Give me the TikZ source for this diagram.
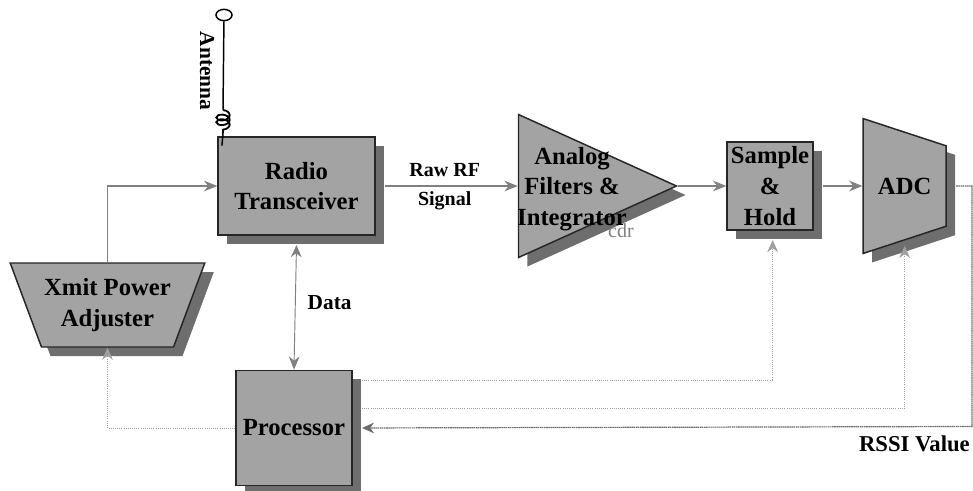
\documentclass[tikz,border=0pt]{standalone}
\usepackage{fontspec}
\setmainfont{Liberation Serif}
\usetikzlibrary{arrows.meta,positioning,shapes,shapes.geometric,shadows,decorations.pathmorphing}
\definecolor{blockgray}{HTML}{A3A3A3}
\definecolor{shadegray}{HTML}{6E6E6E}
\begin{document}
\begin{tikzpicture}[x=0.75pt,y=-0.75pt,node distance=37.5pt]
\tikzstyle{block}=[draw=black!85, line width=1.1pt, fill=blockgray, inner sep=0pt, align=center,
  font=\bfseries\fontsize{18.5}{23}\selectfont,
  drop shadow={shadow xshift=6.75pt, shadow yshift=-6.75pt, fill=shadegray, opacity=1}]
\tikzstyle{lbl}=[inner sep=0pt, align=center, text=black, font=\bfseries\fontsize{16}{20}\selectfont]
\tikzstyle{sig}=[-{Stealth[length=10pt,width=8pt]}, gray, line width=0.8pt]
\tikzstyle{fb}=[-{Stealth[length=9pt,width=8pt]}, gray!75, line width=0.6pt, densely dotted]
\useasboundingbox (0,0) rectangle (973,490);
\node[block, minimum width=117.75pt, minimum height=73.5pt] (radio) at (296.5,186) {Radio\\Transceiver};
\node[block, isosceles triangle, isosceles triangle apex angle=48, isosceles triangle stretches,
  minimum width=107.25pt, minimum height=118.5pt, right=106.5pt of radio] (filt) {};
\node[block, minimum width=64.5pt, minimum height=66pt, right=36pt of filt.apex] (sh) {Sample\\\&\\Hold};
\node[block, trapezium, trapezium angle=84, trapezium stretches, shape border rotate=270,
  minimum width=101.25pt, minimum height=62.25pt, right=36.5pt of sh] (adc) {ADC};
\node[block, trapezium, trapezium angle=60.5, trapezium stretches, shape border rotate=180,
  minimum width=146.25pt, minimum height=63pt] (xmit) at (107.5,305) {Xmit Power\\Adjuster};
\node[block, minimum width=87pt, minimum height=86.25pt, below=100.5pt of radio, xshift=-1.9pt] (proc) {Processor};
\node[lbl, font=\bfseries\fontsize{18.5}{23}\selectfont] (filttext) at (572,189) {Analog\\Filters \&\\Integrator};
\node[text=gray, font=\fontsize{15}{17}\selectfont, inner sep=0pt] (stray) at (621,231) {cdr};
\coordinate (antfoot) at ([xshift=3.5pt,yshift=-7pt]radio.north west);
\node[draw=black, line width=1.1pt, fill=white, ellipse, minimum width=12pt, minimum height=8.5pt, inner sep=0pt] (anttop) at (224,15) {};
\coordinate (coiltop) at (223,110);
\coordinate (coilfoot) at (223,133);
\draw[black, line width=1.1pt] (anttop) -- (coiltop);
\draw[black, line width=1.4pt, decorate, decoration={coil,aspect=0.6,segment length=3.5pt,amplitude=5pt}] (coiltop) -- (coilfoot);
\draw[black, line width=1.1pt] (coilfoot) -- (antfoot);
\node[lbl, rotate=270] (antlabel) at (207,71) {Antenna};
\draw[sig] (xmit.north) |- (radio.west);
\draw[sig] ([xshift=7pt]radio.east) -- (filt.west)
  node[lbl, font=\bfseries\fontsize{15}{19}\selectfont, midway, xshift=-5pt, yshift=-0.5pt] (rawrf) {Raw RF\\[3pt]Signal};
\draw[sig] (filt.apex) -- (sh.west);
\draw[sig] ([xshift=7pt]sh.east) -- (adc.west);
\draw[{Stealth[length=9pt,width=8pt]}-{Stealth[length=10pt,width=8pt]}, gray, line width=0.7pt] ([yshift=-7pt]radio.south) -- (proc.north)
  node[lbl, midway, right=9pt, yshift=3.5pt] (datalabel) {Data};
\coordinate (rssibend) at (972,426.5);
\draw[gray!85!black, line width=0.9pt, dash pattern=on 1.2pt off 0.4pt, -{Stealth[length=9pt,width=8pt]}] ([xshift=7pt]adc.east) -| (rssibend) -- ([xshift=7pt]proc.east);
\node[lbl, font=\bfseries\fontsize{17}{20}\selectfont, below left=7pt and 1.5pt of rssibend] (rssilabel) {RSSI Value};
\draw[fb] ([xshift=7pt,yshift=35.5pt]proc.east) -| ([xshift=2pt,yshift=-7pt]sh.south);
\draw[fb] ([xshift=7pt,yshift=15pt]proc.east) -| ([yshift=-4pt]adc.south);
\draw[fb] (proc.west) -| (xmit.south);
\end{tikzpicture}
\end{document}
